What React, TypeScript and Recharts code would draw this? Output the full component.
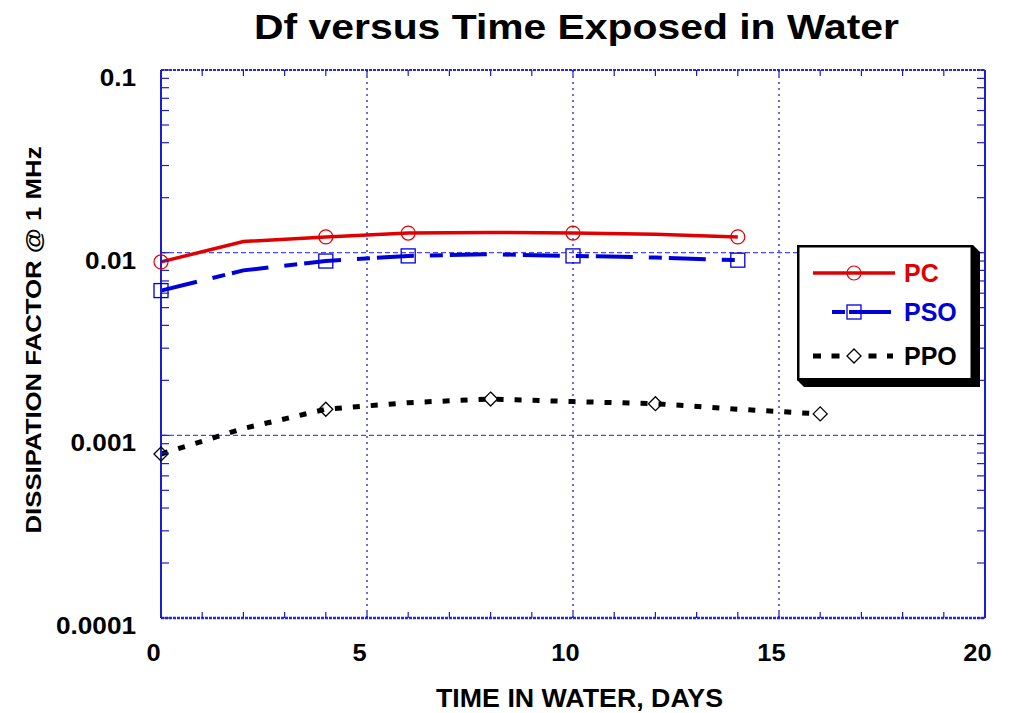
import { Legend, Line, LineChart, ReferenceLine, XAxis, YAxis } from "recharts";

const days = [0, 2, 4, 6, 8, 10, 12, 14, 16];
const pcValues = [0.0089, 0.0115, 0.0122, 0.0128, 0.0129, 0.0128, 0.0126, 0.0122, null];
const psoValues = [0.0062, 0.008, 0.009, 0.0096, 0.0098, 0.0096, 0.0094, 0.0091, null];
const ppoValues = [0.00079, 0.00109, 0.00139, 0.00151, 0.00158, 0.00153, 0.00149, 0.00139, 0.00131];

// days that carry a symbol on each curve
const pcMarked = [0, 4, 6, 10, 14];
const psoMarked = [0, 4, 6, 10, 14];
const ppoMarked = [0, 4, 8, 12, 16];

const xTicks = [0, 1, 2, 3, 4, 5, 6, 7, 8, 9, 10, 11, 12, 13, 14, 15, 16, 17, 18, 19, 20];
const xLabelTicks = [0, 5, 10, 15, 20];
const xGridDays = [5, 10, 15];
const yDecades = [0.0001, 0.001, 0.01, 0.1];
const yMinorSteps = [2, 3, 4, 5, 6, 7, 8, 9];
const yGridValues = [0.01, 0.001];

const data = days.map((day, i) => ({
  day,
  pc: pcValues[i],
  pso: psoValues[i],
  ppo: ppoValues[i],
}));

const yTicks = [
  ...yDecades,
  ...yDecades.slice(0, -1).flatMap((d) => yMinorSteps.map((m) => d * m)),
].sort((a, b) => a - b);

const RED = "#e00000";
const BLUE = "#0000d8";
const AXIS_BLUE = "#1c1cd0";
const FONT = "'Liberation Sans', Arial, Helvetica, sans-serif";

const PSO_DASH = "37 16 13 7";
const PPO_DASH = "7 11";

function isDecade(v: number) {
  return yDecades.some((d) => Math.abs(d - v) / d < 1e-6);
}

function BottomTick({ x, y, payload }: any) {
  const show = xLabelTicks.includes(payload.value);
  return (
    <g>
      <line x1={x} x2={x} y1={y} y2={y - 6} stroke={AXIS_BLUE} strokeWidth={1.2} />
      {show && (
        <text
          transform={`translate(${x - 7.5},${y + 43}) scale(1.06,1)`}
          textAnchor="middle"
          fontFamily={FONT}
          fontWeight="bold"
          fontSize={24}
          fill="#000"
        >
          {payload.value}
        </text>
      )}
    </g>
  );
}

function TopTick({ x, y }: any) {
  return <line x1={x} x2={x} y1={y} y2={y + 6} stroke={AXIS_BLUE} strokeWidth={1.2} />;
}

function LeftTick({ x, y, payload }: any) {
  const show = isDecade(payload.value);
  return (
    <g>
      <line x1={x} x2={x + 8} y1={y} y2={y} stroke={AXIS_BLUE} strokeWidth={1.2} />
      {show && (
        <text
          transform={`translate(${x - 25},${y + 16}) scale(1.09,1)`}
          textAnchor="end"
          fontFamily={FONT}
          fontWeight="bold"
          fontSize={24}
          fill="#000"
        >
          {String(payload.value)}
        </text>
      )}
    </g>
  );
}

function RightTick({ x, y }: any) {
  return <line x1={x} x2={x - 8} y1={y} y2={y} stroke={AXIS_BLUE} strokeWidth={1.2} />;
}

function markerDot(marked: number[], kind: "circle" | "square" | "diamond") {
  return (props: any) => {
    const { cx, cy, payload, index } = props;
    if (!marked.includes(payload.day) || cx == null || cy == null) {
      return <g key={`n-${index}`} />;
    }
    if (kind === "circle") {
      return <circle key={`d-${index}`} cx={cx} cy={cy} r={7} fill="none" stroke={RED} strokeWidth={1.2} />;
    }
    if (kind === "square") {
      return (
        <rect key={`d-${index}`} x={cx - 7} y={cy - 7} width={14} height={14} fill="none" stroke={BLUE} strokeWidth={1.3} />
      );
    }
    return (
      <path
        key={`d-${index}`}
        d={`M${cx},${cy - 7}L${cx + 7},${cy}L${cx},${cy + 7}L${cx - 7},${cy}Z`}
        fill="none"
        stroke="#000"
        strokeWidth={1.3}
      />
    );
  };
}

function LegendBox() {
  const rows = [
    { label: "PC", color: RED, y: 28, x1: 16, x2: 98, dash: undefined, width: 3.5, kind: "circle" },
    { label: "PSO", color: BLUE, y: 67, x1: 35, x2: 94, dash: "13 4 42", width: 4, kind: "square" },
    { label: "PPO", color: "#000", y: 111, x1: 16, x2: 96, dash: "8 10.5", width: 5, kind: "diamond" },
  ];
  return (
    <svg width={184} height={143} style={{ display: "block" }}>
      <polygon points="176,0 183,7 183,142 7,142 0,135" fill="#000" />
      <rect x={1.25} y={1.25} width={173.5} height={133} fill="#fff" stroke="#000" strokeWidth={2.5} />
      {rows.map((r) => (
        <g key={r.label}>
          <line x1={r.x1} x2={r.x2} y1={r.y} y2={r.y} stroke={r.color} strokeWidth={r.width} strokeDasharray={r.dash} />
          {r.kind === "circle" && <circle cx={57} cy={r.y} r={7} fill="none" stroke={r.color} strokeWidth={1.2} />}
          {r.kind === "square" && (
            <rect x={50} y={r.y - 7} width={14} height={14} fill="none" stroke={r.color} strokeWidth={1.3} />
          )}
          {r.kind === "diamond" && (
            <path
              d={`M57,${r.y - 7}L64,${r.y}L57,${r.y + 7}L50,${r.y}Z`}
              fill="#fff"
              stroke="#000"
              strokeWidth={1.3}
            />
          )}
          <text x={107} y={r.y + 9} fontFamily={FONT} fontWeight="bold" fontSize={25} fill={r.color}>
            {r.label}
          </text>
        </g>
      ))}
    </svg>
  );
}

export default function App() {
  return (
    <div style={{ position: "absolute", left: 0, top: 0, width: 1009, height: 713, background: "#fff" }}>
      <LineChart width={1009} height={713} data={data} margin={{ top: 40, right: 0, bottom: 0, left: 0 }}>
        <XAxis
          xAxisId="bottom"
          dataKey="day"
          type="number"
          domain={[0, 20]}
          ticks={xTicks}
          interval={0}
          height={95}
          tickSize={0}
          tickMargin={0}
          tickLine={false}
          tick={<BottomTick />}
          axisLine={{ stroke: "#2a2ad4", strokeWidth: 2.5, strokeDasharray: "3 1" }}
        />
        <XAxis
          xAxisId="top"
          orientation="top"
          dataKey="day"
          type="number"
          domain={[0, 20]}
          ticks={xTicks}
          interval={0}
          height={30}
          tickSize={0}
          tickMargin={0}
          tickLine={false}
          tick={<TopTick />}
          axisLine={{ stroke: "#2a2ad4", strokeWidth: 2, strokeDasharray: "3 1" }}
        />
        <YAxis
          yAxisId="left"
          scale="log"
          domain={[0.0001, 0.1]}
          allowDataOverflow
          ticks={yTicks}
          interval={0}
          width={161}
          tickSize={0}
          tickMargin={0}
          tickLine={false}
          tick={<LeftTick />}
          axisLine={{ stroke: AXIS_BLUE, strokeWidth: 2 }}
        />
        <YAxis
          yAxisId="right"
          orientation="right"
          scale="log"
          domain={[0.0001, 0.1]}
          allowDataOverflow
          ticks={yTicks}
          interval={0}
          width={24}
          tickSize={0}
          tickMargin={0}
          tickLine={false}
          tick={<RightTick />}
          axisLine={{ stroke: AXIS_BLUE, strokeWidth: 2 }}
        />
        {xGridDays.map((d) => (
          <ReferenceLine
            key={`vx-${d}`}
            x={d}
            xAxisId="bottom"
            yAxisId="left"
            stroke="#2020cc"
            strokeWidth={1.3}
            strokeDasharray="2 4"
          />
        ))}
        {yGridValues.map((v) => (
          <ReferenceLine
            key={`hy-${v}`}
            y={v}
            xAxisId="bottom"
            yAxisId="left"
            stroke="#4a4aee"
            strokeWidth={1.3}
            strokeDasharray="5 3"
          />
        ))}
        <Line
          xAxisId="bottom"
          yAxisId="left"
          type="linear"
          dataKey="pc"
          name="PC"
          stroke={RED}
          strokeWidth={3.5}
          dot={markerDot(pcMarked, "circle")}
          activeDot={false}
          isAnimationActive={false}
        />
        <Line
          xAxisId="bottom"
          yAxisId="left"
          type="linear"
          dataKey="pso"
          name="PSO"
          stroke={BLUE}
          strokeWidth={4}
          strokeDasharray={PSO_DASH}
          dot={markerDot(psoMarked, "square")}
          activeDot={false}
          isAnimationActive={false}
        />
        <Line
          xAxisId="bottom"
          yAxisId="left"
          type="linear"
          dataKey="ppo"
          name="PPO"
          stroke="#000"
          strokeWidth={5}
          strokeDasharray={PPO_DASH}
          dot={markerDot(ppoMarked, "diamond")}
          activeDot={false}
          isAnimationActive={false}
        />
        <Legend
          layout="vertical"
          align="center"
          verticalAlign="middle"
          wrapperStyle={{ left: 797, top: 245, width: 184, height: 143 }}
          content={() => <LegendBox />}
        />
      </LineChart>
      <svg
        width={1009}
        height={713}
        style={{ position: "absolute", left: 0, top: 0, pointerEvents: "none" }}
      >
        <text
          transform="translate(576.5,39) scale(1.135,1)"
          textAnchor="middle"
          fontFamily={FONT}
          fontWeight="bold"
          fontSize={36}
          fill="#000"
        >
          Df versus Time Exposed in Water
        </text>
        <text
          transform="translate(579.5,707) scale(1.03,1)"
          textAnchor="middle"
          fontFamily={FONT}
          fontWeight="bold"
          fontSize={26}
          fill="#000"
        >
          TIME IN WATER, DAYS
        </text>
        <text
          transform="translate(41,340) rotate(-90) scale(1.12,1)"
          textAnchor="middle"
          fontFamily={FONT}
          fontWeight="bold"
          fontSize={23}
          fill="#000"
        >
          DISSIPATION FACTOR @ 1 MHz
        </text>
      </svg>
    </div>
  );
}
